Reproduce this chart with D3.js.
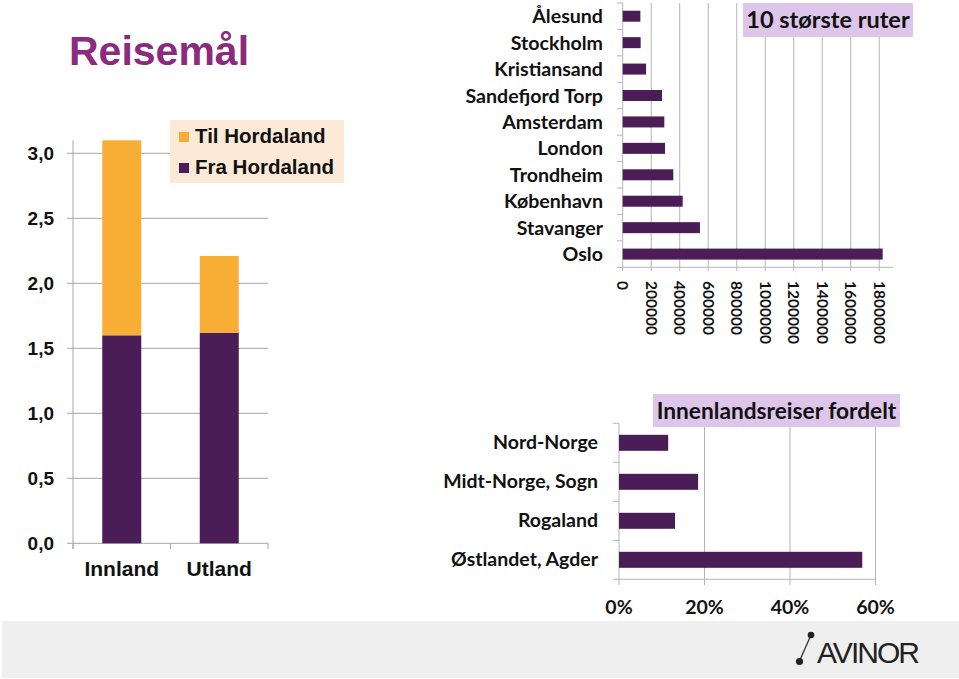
<!DOCTYPE html>
<html><head><meta charset="utf-8">
<script src="https://cdn.jsdelivr.net/npm/d3@7"></script>
<style>html,body{margin:0;padding:0;background:#fff;}svg{display:block;}</style>
</head><body>
<script>
// ---- Data ----
const leftCategories = ["Innland", "Utland"];
const fraHordaland = [1.60, 1.62];
const tilHordaland = [1.50, 0.59];
const leftTicks = [0, 0.5, 1.0, 1.5, 2.0, 2.5, 3.0];

const routes = ["Ålesund", "Stockholm", "Kristiansand", "Sandefjord Torp", "Amsterdam", "London", "Trondheim", "København", "Stavanger", "Oslo"];
const routeValues = [124000, 126000, 164000, 276000, 292000, 297000, 355000, 421000, 542000, 1824000];
const routeTicks = [0, 200000, 400000, 600000, 800000, 1000000, 1200000, 1400000, 1600000, 1800000];

const regions = ["Nord-Norge", "Midt-Norge, Sogn", "Rogaland", "Østlandet, Agder"];
const regionShares = [0.115, 0.185, 0.131, 0.569];
const shareTicks = [0, 0.2, 0.4, 0.6];

const PURPLE = "#4b1d57", ORANGE = "#f8ae35", LAV = "#ddc6ea";
const ARIAL = "'Liberation Sans', Arial, Helvetica, sans-serif";
const LBL = "Lato, 'Open Sans', sans-serif";
const W = 959, H = 679;
const svg = d3.select("body").append("svg").attr("width", W).attr("height", H);

// footer
svg.append("rect").attr("x", 2).attr("y", 621).attr("width", W - 2).attr("height", 57).attr("fill", "#efefef");
const logo = svg.append("g");
logo.append("line").attr("x1", 811).attr("y1", 635).attr("x2", 799.5).attr("y2", 661).attr("stroke", "#333").attr("stroke-width", 1.3);
logo.append("circle").attr("cx", 811).attr("cy", 635).attr("r", 3.3).attr("fill", "#222");
logo.append("circle").attr("cx", 799.5).attr("cy", 661.5).attr("r", 3.6).attr("fill", "#222");
logo.append("text").attr("x", 817).attr("y", 663).attr("font-family", ARIAL)
  .attr("font-size", 30).attr("fill", "#222").attr("textLength", 103).text("AVINOR");

// ---- Left chart ----
svg.append("text").attr("x", 69).attr("y", 65).attr("font-family", ARIAL)
  .attr("font-weight", "bold").attr("font-size", 41).attr("fill", "#8b2a7f").text("Reisemål");

const yL = d3.scaleLinear().domain([0, 3.0]).range([543.3, 153.3]);
const xL = d3.scaleBand().domain(leftCategories).range([73, 268]).paddingInner(0.6).paddingOuter(0.3);
const gl = svg.append("g");
gl.selectAll("line.grid").data(leftTicks).join("line")
  .attr("x1", 67).attr("x2", 268).attr("y1", d => yL(d)).attr("y2", d => yL(d))
  .attr("stroke", "#a6a6a6").attr("stroke-width", 1);
gl.append("line").attr("x1", 73).attr("x2", 73).attr("y1", yL(3.1)).attr("y2", 549).attr("stroke", "#a6a6a6");
gl.selectAll("line.cat").data([73, 170.5, 268]).join("line")
  .attr("x1", d => d).attr("x2", d => d).attr("y1", 543.3).attr("y2", 549).attr("stroke", "#a6a6a6");
gl.selectAll("text.yl").data(leftTicks).join("text")
  .attr("x", 54).attr("y", d => yL(d)).attr("dy", "0.36em").attr("text-anchor", "end")
  .attr("font-family", ARIAL).attr("font-weight", "bold").attr("font-size", 19)
  .attr("fill", "#111").text(d => d3.format(".1f")(d).replace(".", ","));
gl.selectAll("rect.fra").data(leftCategories).join("rect")
  .attr("x", d => xL(d)).attr("width", xL.bandwidth())
  .attr("y", (d, i) => yL(fraHordaland[i])).attr("height", (d, i) => yL(0) - yL(fraHordaland[i])).attr("fill", PURPLE);
gl.selectAll("rect.til").data(leftCategories).join("rect")
  .attr("x", d => xL(d)).attr("width", xL.bandwidth())
  .attr("y", (d, i) => yL(fraHordaland[i] + tilHordaland[i])).attr("height", (d, i) => yL(fraHordaland[i]) - yL(fraHordaland[i] + tilHordaland[i])).attr("fill", ORANGE);
gl.selectAll("text.xl").data(leftCategories).join("text")
  .attr("x", d => xL(d) + xL.bandwidth() / 2).attr("y", 576).attr("text-anchor", "middle")
  .attr("font-family", ARIAL).attr("font-weight", "bold").attr("font-size", 21)
  .attr("fill", "#111").text(d => d);
// legend
const lg = svg.append("g");
lg.append("rect").attr("x", 170).attr("y", 120).attr("width", 174).attr("height", 63).attr("fill", "#fcead6");
[["Til Hordaland", ORANGE, 143], ["Fra Hordaland", PURPLE, 174]].forEach(([t, c, y]) => {
  lg.append("rect").attr("x", 179).attr("y", y - 11).attr("width", 10).attr("height", 10).attr("fill", c);
  lg.append("text").attr("x", 195).attr("y", y).attr("font-family", ARIAL)
    .attr("font-weight", "bold").attr("font-size", 20.5).attr("fill", "#111").text(t);
});

// ---- Top right chart ----
const xR = d3.scaleLinear().domain([0, 1900000]).range([622.7, 893.5]);
const yRb = d3.scaleBand().domain(routes).range([3, 267.3]);
const gr = svg.append("g");
gr.selectAll("line.grid").data(routeTicks.slice(1)).join("line")
  .attr("x1", d => xR(d)).attr("x2", d => xR(d)).attr("y1", 3).attr("y2", 271)
  .attr("stroke", "#b5b5b5");
gr.append("line").attr("x1", xR(0)).attr("x2", xR(0)).attr("y1", 3).attr("y2", 271).attr("stroke", "#b5b5b5");
gr.append("line").attr("x1", 617).attr("x2", 893.5).attr("y1", 267.3).attr("y2", 267.3).attr("stroke", "#b5b5b5");
gr.selectAll("line.tk").data(routes).join("line")
  .attr("x1", 617).attr("x2", 622.7).attr("y1", d => yRb(d)).attr("y2", d => yRb(d)).attr("stroke", "#b5b5b5");
gr.selectAll("rect.bar").data(routes).join("rect")
  .attr("x", xR(0)).attr("y", d => yRb(d) + yRb.bandwidth() / 2 - 5.5)
  .attr("width", (d, i) => xR(routeValues[i]) - xR(0)).attr("height", 11).attr("fill", PURPLE);
gr.selectAll("text.lab").data(routes).join("text")
  .attr("x", 603).attr("y", d => yRb(d) + yRb.bandwidth() / 2).attr("dy", "0.36em").attr("text-anchor", "end")
  .attr("font-family", LBL).attr("font-weight", "bold").attr("font-size", 19.6).attr("fill", "#111").text(d => d);
gr.selectAll("text.tick").data(routeTicks).join("text")
  .attr("transform", d => `translate(${xR(d)},281) rotate(90)`).attr("dy", "0.35em")
  .attr("font-family", LBL).attr("font-weight", "bold").attr("font-size", 15.5).attr("fill", "#111").text(d => d);
gr.append("rect").attr("x", 743).attr("y", 3).attr("width", 170).attr("height", 34).attr("fill", LAV);
gr.append("text").attr("x", 828).attr("y", 20).attr("dy", "0.36em").attr("text-anchor", "middle")
  .attr("font-family", LBL).attr("font-weight", "bold").attr("font-size", 23.5).attr("fill", "#111").text("10 største ruter");

// ---- Bottom right chart ----
const xB = d3.scaleLinear().domain([0, 0.6]).range([619, 875.5]);
const yB = d3.scaleBand().domain(regions).range([423.3, 579.3]);
const gb = svg.append("g");
gb.selectAll("line.grid").data(shareTicks.slice(1)).join("line")
  .attr("x1", d => xB(d)).attr("x2", d => xB(d)).attr("y1", 423.3).attr("y2", 585).attr("stroke", "#b5b5b5");
gb.append("line").attr("x1", xB(0)).attr("x2", xB(0)).attr("y1", 423.3).attr("y2", 585).attr("stroke", "#b5b5b5");
gb.append("line").attr("x1", 613).attr("x2", 875.5).attr("y1", 579.3).attr("y2", 579.3).attr("stroke", "#b5b5b5");
gb.selectAll("line.tk").data(regions).join("line")
  .attr("x1", 613).attr("x2", 619).attr("y1", d => yB(d)).attr("y2", d => yB(d)).attr("stroke", "#b5b5b5");
gb.selectAll("rect.bar").data(regions).join("rect")
  .attr("x", xB(0)).attr("y", d => yB(d) + yB.bandwidth() / 2 - 8)
  .attr("width", (d, i) => xB(regionShares[i]) - xB(0)).attr("height", 16).attr("fill", PURPLE);
gb.selectAll("text.lab").data(regions).join("text")
  .attr("x", 598).attr("y", d => yB(d) + yB.bandwidth() / 2 - 1).attr("dy", "0.36em").attr("text-anchor", "end")
  .attr("font-family", LBL).attr("font-weight", "bold").attr("font-size", 19.5).attr("fill", "#111").text(d => d);
gb.selectAll("text.tick").data(shareTicks).join("text")
  .attr("x", d => xB(d)).attr("y", 614).attr("text-anchor", "middle")
  .attr("font-family", LBL).attr("font-weight", "bold").attr("font-size", 19.5).attr("fill", "#111").text(d => d3.format(".0%")(d));
gb.append("rect").attr("x", 653).attr("y", 394).attr("width", 247).attr("height", 33).attr("fill", LAV);
gb.append("text").attr("x", 776.5).attr("y", 411).attr("dy", "0.36em").attr("text-anchor", "middle")
  .attr("font-family", LBL).attr("font-weight", "bold").attr("font-size", 22.7).attr("fill", "#111").text("Innenlandsreiser fordelt");
</script>
</body></html>
